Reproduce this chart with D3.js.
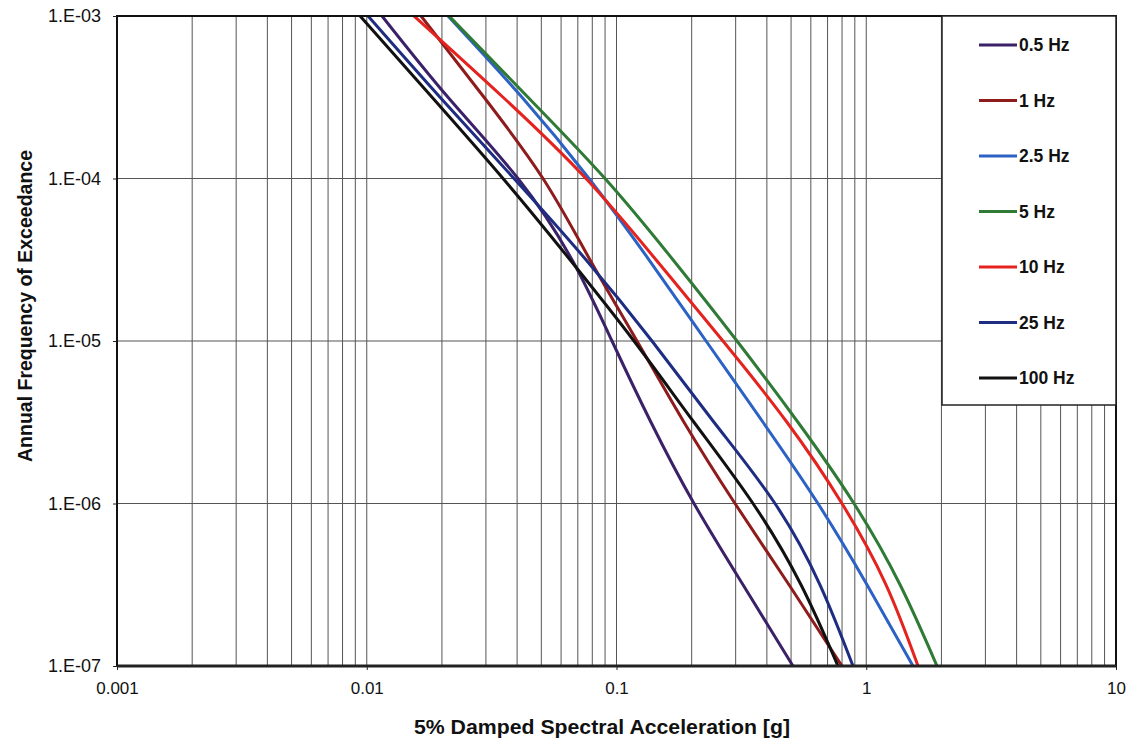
<!DOCTYPE html>
<html>
<head>
<meta charset="utf-8">
<script src="https://cdn.jsdelivr.net/npm/d3@7"></script>
<style>
  html, body { margin: 0; padding: 0; background: #ffffff; }
  svg { display: block; font-family: "Liberation Sans", Arial, sans-serif; }
</style>
</head>
<body>
<svg id="chart" width="1131" height="741"></svg>
<script>
// Annual frequency levels at which each hazard curve is sampled
const frequencies = [1e-3, 3.162e-4, 1e-4, 3.162e-5, 1e-5, 3.162e-6, 1e-6, 3.162e-7, 1e-7];

// Spectral acceleration [g] for each oscillator frequency, at the levels above
const sa_0_5Hz = [0.01151, 0.02115, 0.04032, 0.06635, 0.09594, 0.1374, 0.2043, 0.3210, 0.5090];
const sa_1Hz   = [0.01650, 0.02948, 0.05078, 0.0783, 0.1208, 0.1863, 0.2982, 0.4905, 0.7995];
const sa_2_5Hz = [0.02115, 0.04184, 0.07758, 0.1349, 0.2283, 0.3860, 0.6408, 1.007, 1.539];
const sa_5Hz   = [0.02135, 0.04422, 0.08995, 0.1683, 0.3037, 0.5329, 0.8932, 1.366, 1.920];
const sa_10Hz  = [0.01546, 0.03513, 0.07547, 0.1439, 0.2669, 0.4816, 0.7995, 1.200, 1.612];
const sa_25Hz  = [0.01012, 0.01965, 0.03886, 0.07547, 0.1387, 0.2457, 0.4311, 0.6527, 0.8850];
const sa_100Hz = [0.00940, 0.01826, 0.03513, 0.06514, 0.1175, 0.2043, 0.3520, 0.5479, 0.7705];

const seriesNames = ["0.5 Hz", "1 Hz", "2.5 Hz", "5 Hz", "10 Hz", "25 Hz", "100 Hz"];
const seriesValues = [sa_0_5Hz, sa_1Hz, sa_2_5Hz, sa_5Hz, sa_10Hz, sa_25Hz, sa_100Hz];
const seriesColors = ["#3a2168", "#8e1c1c", "#2c62c4", "#2f7a35", "#e4221e", "#1e2d82", "#111111"];

const xTickValues = [0.001, 0.01, 0.1, 1, 10];
const xTickLabels = ["0.001", "0.01", "0.1", "1", "10"];
const yTickValues = [1e-3, 1e-4, 1e-5, 1e-6, 1e-7];
const yTickLabels = ["1.E-03", "1.E-04", "1.E-05", "1.E-06", "1.E-07"];

const margin = { left: 117, top: 16 };
const plotW = 1116 - margin.left;
const plotH = 666 - margin.top;

const svg = d3.select("#chart");
const g = svg.append("g").attr("transform", `translate(${margin.left},${margin.top})`);

const x = d3.scaleLog().domain([0.001, 10]).range([0, plotW]);
const y = d3.scaleLog().domain([1e-7, 1e-3]).range([plotH, 0]);

// plot background
g.append("rect").attr("width", plotW).attr("height", plotH).attr("fill", "#ffffff");

// vertical gridlines at 1..9 of every decade
const xGrid = [];
for (let e = -3; e < 1; e++) {
  for (let m = 1; m <= 9; m++) xGrid.push(m * Math.pow(10, e));
}
g.append("g").selectAll("line").data(xGrid.filter(v => v > 0.001)).join("line")
  .attr("x1", d => x(d)).attr("x2", d => x(d))
  .attr("y1", 0).attr("y2", plotH)
  .attr("stroke", "#555").attr("stroke-width", 1);

// horizontal gridlines at each decade
g.append("g").selectAll("line").data(yTickValues.slice(1, -1)).join("line")
  .attr("x1", 0).attr("x2", plotW)
  .attr("y1", d => y(d)).attr("y2", d => y(d))
  .attr("stroke", "#555").attr("stroke-width", 1);

// hazard curves (smooth spline through the sampled levels)
const line = d3.line()
  .x(d => x(d[0]))
  .y(d => y(d[1]))
  .curve(d3.curveNatural);

g.append("clipPath").attr("id", "plotclip")
  .append("rect").attr("width", plotW).attr("height", plotH);

const curves = g.append("g").attr("clip-path", "url(#plotclip)");
seriesValues.forEach((vals, i) => {
  const pts = vals.map((v, j) => [v, frequencies[j]]);
  curves.append("path")
    .datum(pts)
    .attr("d", line)
    .attr("fill", "none")
    .attr("stroke", seriesColors[i])
    .attr("stroke-width", 3)
    .attr("stroke-linejoin", "round");
});

// plot frame
g.append("rect").attr("width", plotW).attr("height", plotH)
  .attr("fill", "none").attr("stroke", "#111").attr("stroke-width", 2);
g.append("line").attr("x1", 0).attr("x2", plotW).attr("y1", plotH).attr("y2", plotH)
  .attr("stroke", "#222").attr("stroke-width", 3);

// axes
const xAxis = d3.axisBottom(x).tickValues(xTickValues)
  .tickFormat((d, i) => xTickLabels[i]).tickSize(4).tickPadding(12);
const gx = g.append("g").attr("transform", `translate(0,${plotH})`).call(xAxis);
gx.select(".domain").remove();
gx.selectAll(".tick line").attr("stroke", "#222");
gx.selectAll(".tick text").attr("font-size", 17).attr("fill", "#111")
  .attr("font-family", "Liberation Sans, Arial, sans-serif");

const yAxis = d3.axisLeft(y).tickValues(yTickValues)
  .tickFormat((d, i) => yTickLabels[i]).tickSize(4).tickPadding(12);
const gy = g.append("g").call(yAxis);
gy.select(".domain").remove();
gy.selectAll(".tick line").attr("stroke", "#222");
gy.selectAll(".tick text").attr("font-size", 18).attr("fill", "#111")
  .attr("font-family", "Liberation Sans, Arial, sans-serif");

// axis titles
svg.append("text")
  .attr("x", 602).attr("y", 734)
  .attr("text-anchor", "middle")
  .attr("font-size", 20).attr("font-weight", "bold").attr("fill", "#111")
  .attr("textLength", 376).attr("lengthAdjust", "spacingAndGlyphs")
  .text("5% Damped Spectral Acceleration [g]");

svg.append("text")
  .attr("transform", "translate(32,306) rotate(-90)")
  .attr("text-anchor", "middle")
  .attr("font-size", 19.5).attr("font-weight", "bold").attr("fill", "#111")
  .attr("textLength", 312).attr("lengthAdjust", "spacingAndGlyphs")
  .text("Annual Frequency of Exceedance");

// legend
const lg = svg.append("g").attr("transform", "translate(942,16)");
lg.append("rect").attr("width", 174).attr("height", 389)
  .attr("fill", "#ffffff").attr("stroke", "#222").attr("stroke-width", 1.5);
seriesNames.forEach((name, i) => {
  const yy = 29 + i * 55.5;
  lg.append("line").attr("x1", 37).attr("x2", 75).attr("y1", yy).attr("y2", yy)
    .attr("stroke", seriesColors[i]).attr("stroke-width", 3);
  lg.append("text").attr("x", 77).attr("y", yy + 6)
    .attr("font-size", 17.5).attr("font-weight", "bold").attr("fill", "#111")
    .text(name);
});
</script>
</body>
</html>
